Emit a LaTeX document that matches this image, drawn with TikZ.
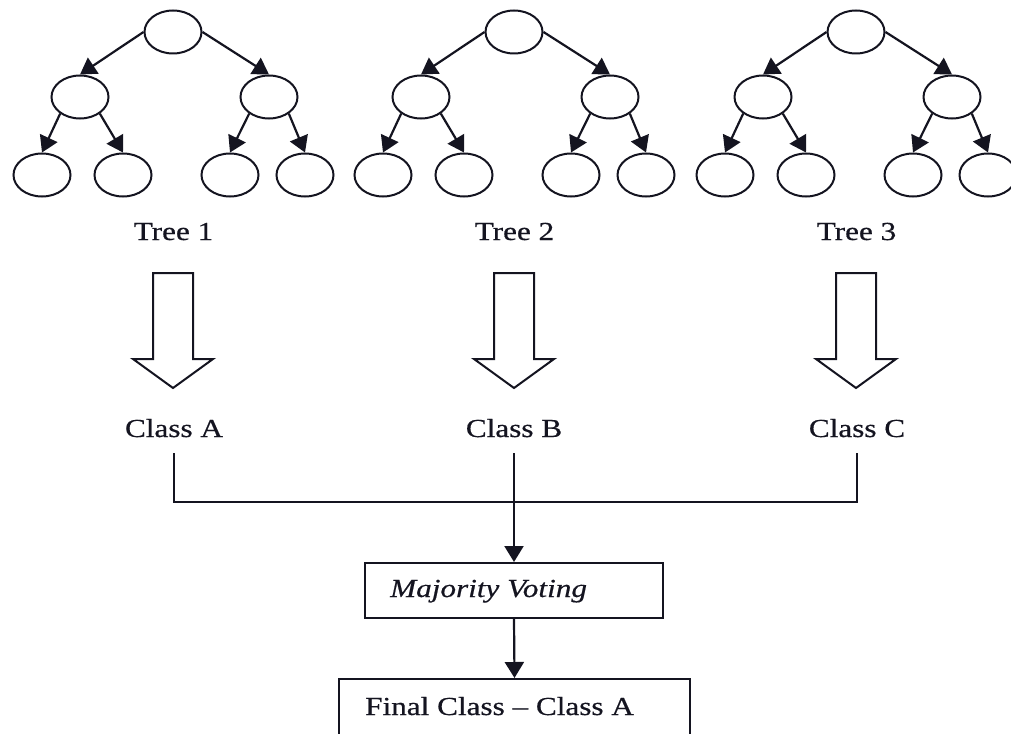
\documentclass[tikz,border=0pt]{standalone}
\usepackage{fontspec}
\setmainfont{Liberation Serif}[FakeBold=0.5]
\usetikzlibrary{shapes.geometric,arrows.meta}
\newcommand\wx[1]{\scalebox{1.2}[1]{#1}}
\definecolor{ink}{HTML}{141420}
\begin{document}
\begin{tikzpicture}[x=1pt,y=-1pt,
  tn/.style={ellipse,draw=ink,line width=2pt,minimum width=57pt,minimum height=43pt,inner sep=0pt},
  ed/.style={draw=ink,line width=2.2pt,-{Triangle[length=16pt,width=19pt]}},
  lbl/.style={font=\fontsize{26}{30}\selectfont,text=ink,inner sep=0pt},
  cls/.style={lbl,anchor=base,inner ysep=16pt},
  box/.style={draw=ink,line width=2pt,inner sep=0pt},
  hollow/.style={draw=ink,line width=2pt,fill=white,line join=miter},
  conn/.style={draw=ink,line width=2.2pt}]
\useasboundingbox (0,0) rectangle (1011,733);

\foreach \i/\o in {1/0,2/341,3/683} {
  \node[tn] (r\i)  at (\o+173,32) {};
  \node[tn] (lc\i) at (\o+80,97) {};
  \node[tn] (rc\i) at (\o+269,97) {};
  \node[tn] (ll\i) at (\o+42,175) {};
  \node[tn] (lr\i) at (\o+123,175) {};
  \node[tn] (rl\i) at (\o+230,175) {};
  \node[tn] (rr\i) at (\o+305,175) {};
  \draw[ed] (r\i.west) -- (lc\i.north);
  \draw[ed] (r\i.east) -- (rc\i.north);
  \draw[ed] (lc\i.220) -- (ll\i.north);
  \draw[ed] (lc\i.320) -- (lr\i.north);
  \draw[ed] (rc\i.220) -- (rl\i.north);
  \draw[ed] (rc\i.320) -- (rr\i.north);
  \node[lbl,anchor=base] (t\i) at (\o+173.5,240) {\wx{Tree \i}};
  \draw[hollow] (\o+153,273) -- (\o+193,273) -- (\o+193,359) -- (\o+213,359)
     -- (\o+173,388) -- (\o+133,359) -- (\o+153,359) -- cycle;
}

\node[cls] (ca) at (174,437) {\wx{Class A}};
\node[cls] (cb) at (514,437) {\wx{Class B}};
\node[cls] (cc) at (857,437) {\wx{Class C}};

\coordinate (j) at (514,502);
\draw[conn] (ca.south) |- (j) -| (cc.south);

\node[box,minimum width=298pt,minimum height=55pt] (mv) at (514,590.5) {};
\node[lbl,anchor=base west] (mvt) at (390,597) {\wx{\itshape Majority Voting}};

\node[box,anchor=north west,minimum width=351pt,minimum height=90pt] (fc) at (338,678) {};
\node[lbl,anchor=base west] (fct) at (365,715) {\wx{Final Class -- Class A}};

\draw[ed] (cb.south) -- (mv.north);
\draw[ed] (mv.south) -- (fc.north);
\end{tikzpicture}
\end{document}
